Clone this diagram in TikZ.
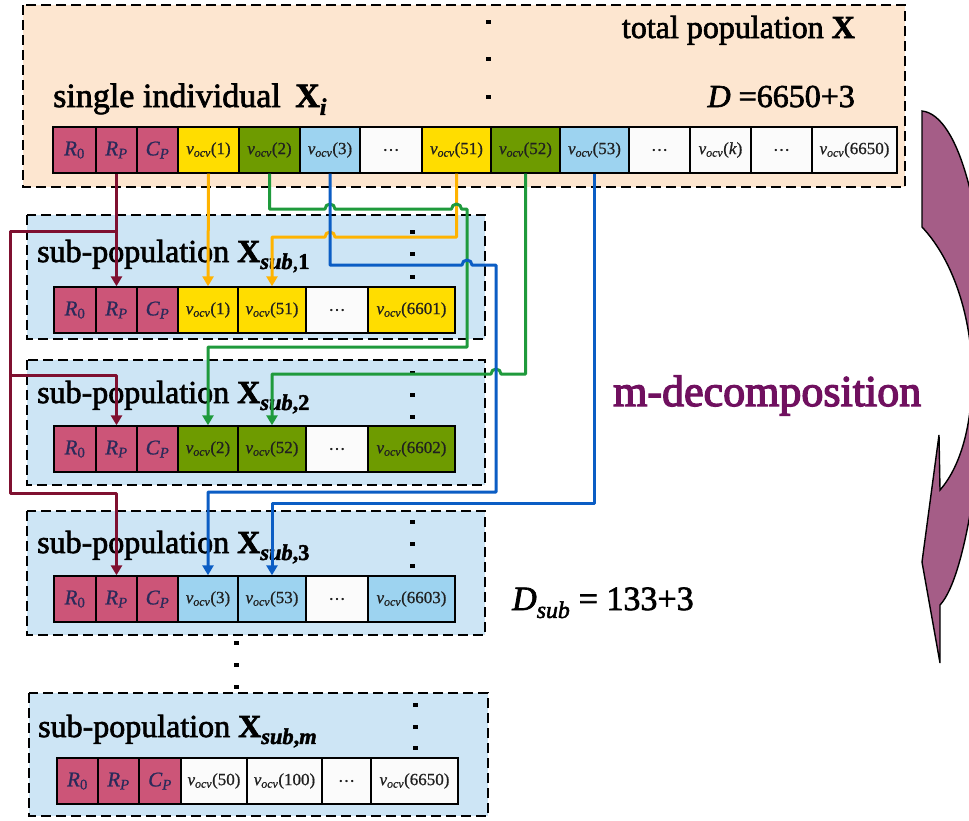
\documentclass[tikz,border=0pt]{standalone}
\usepackage{fontspec}
\setmainfont{Liberation Serif}
\newfontfamily\heavyserif{Liberation Serif}[FakeBold=2]
\newfontfamily\titleserif{Liberation Serif}[FakeBold=3]
\newfontfamily\cellserif{Liberation Serif}[FakeBold=0.8]
\usetikzlibrary{arrows.meta,calc}

\definecolor{peach}{HTML}{FDE6D0}
\definecolor{subfill}{HTML}{CDE5F5}
\definecolor{pinkc}{HTML}{CC5578}
\definecolor{yelc}{HTML}{FFDD00}
\definecolor{grnc}{HTML}{6E9B00}
\definecolor{bluc}{HTML}{9DD3F0}
\definecolor{whtc}{HTML}{FBFBFB}
\definecolor{mlinec}{HTML}{7F1030}
\definecolor{olinec}{HTML}{FFB300}
\definecolor{glinec}{HTML}{1F9A3C}
\definecolor{blinec}{HTML}{0B5DC4}
\definecolor{arrowc}{HTML}{A55D87}
\definecolor{purptxt}{HTML}{70105F}
\definecolor{celltxt}{HTML}{202020}
\definecolor{rtxt}{HTML}{2A2A5A}

% cell contents
\newcommand\vocv[1]{\textit{v}\textsubscript{\textit{ocv}}(#1)}
\newcommand\cRz{\textit{R}\textsubscript{0}}
\newcommand\cRp{\textit{R}\textsubscript{\textit{P}}}
\newcommand\cCp{\textit{C}\textsubscript{\textit{P}}}

% one cell of a chromosome row: name, fill, left x, right x, centre y, text
\newcommand\cell[6]{\node[cellbox,fill=#2,minimum width={(#4-#3)*1pt}] (#1) at ({(#3+#4)/2},#5) {#6};}
% a parameter cell (R_0, R_P, C_P): name, left x, right x, centre y, text
\newcommand\pcell[5]{\node[cellbox,rcell,fill=pinkc,minimum width={(#3-#2)*1pt}] (#1) at ({(#2+#3)/2},#4) {#5};}
% small square dot
\newcommand\sqdot[2]{\fill (#1-2.5,#2-2.3) rectangle (#1+2.5,#2+2.3);}

\tikzset{
  cellbox/.style={draw=black, line width=1.4pt, minimum height=46pt, inner sep=0pt,
    font=\cellserif\fontsize{17}{19}\selectfont, text=celltxt},
  rcell/.style={font=\cellserif\fontsize{21}{23}\selectfont, text=rtxt},
  popbox/.style={draw=black, dash pattern=on 10pt off 5pt, line width=1.9pt},
  lbl/.style={inner sep=0pt, font=\heavyserif\fontsize{32}{36}\selectfont},
  conn/.style={line width=3pt, line join=round, -{Triangle[length=10pt,width=11pt]}},
  mline/.style={conn, draw=mlinec},
  oline/.style={conn, draw=olinec},
  gline/.style={conn, draw=glinec},
  bline/.style={conn, draw=blinec},
}

\begin{document}
\begin{tikzpicture}[x=1pt,y=-1pt]
\useasboundingbox (0,0) rectangle (969,820);
\fill[white] (0,0) rectangle (969,820);

% ---------- population containers ----------
\draw[popbox, fill=peach] (23,5) rectangle (905,187);
\draw[popbox, fill=subfill] (27,215) rectangle (485,339);
\draw[popbox, fill=subfill] (27,360) rectangle (485,485);
\draw[popbox, fill=subfill] (27,511) rectangle (485,635);
\draw[popbox, fill=subfill] (29,693) rectangle (488,816);

% ---------- vertical ellipses ----------
\sqdot{488}{22}\sqdot{488}{59}\sqdot{488}{97}
\sqdot{412}{232}\sqdot{412}{254}\sqdot{412}{277}
\sqdot{412}{373}\sqdot{412}{395}\sqdot{412}{417}
\sqdot{412}{522}\sqdot{412}{544}\sqdot{412}{566}
\sqdot{236}{643}\sqdot{236}{665}\sqdot{236}{687}
\sqdot{415}{705}\sqdot{415}{727}\sqdot{415}{748}

% ---------- labels ----------
\node[lbl, anchor=base east] (total) at (855,38) {total population \textbf{X}};
\node[lbl, anchor=base east] (dim) at (855,107) {\textit{D} =6650+3};
\node[lbl, anchor=base west, font=\heavyserif\fontsize{34}{38}\selectfont] (single) at (53,107) {single individual\hspace{6pt} \textbf{X}\textsubscript{\textbf{\textit{i}}}};
\node[lbl, anchor=base west] (lab1) at (37,262) {sub-population \textbf{X}\textsubscript{\textbf{\textit{sub}},\textbf{1}}};
\node[lbl, anchor=base west] (lab2) at (37,403) {sub-population \textbf{X}\textsubscript{\textbf{\textit{sub},2}}};
\node[lbl, anchor=base west] (lab3) at (37,553) {sub-population \textbf{X}\textsubscript{\textbf{\textit{sub},3}}};
\node[lbl, anchor=base west] (labm) at (38,737) {sub-population \textbf{X}\textsubscript{\textbf{\textit{sub},\textit{m}}}};
\node[lbl, anchor=base west, font=\heavyserif\fontsize{34}{38}\selectfont] (dsub) at (512,610) {\textit{D}\textsubscript{\textit{sub}} = 133+3};
\node[anchor=base west, inner sep=0pt, font=\titleserif\fontsize{44}{48}\selectfont, text=purptxt] (mdec) at (613,406) {m-decomposition};

% ---------- single individual ----------
\pcell{t0}{53}{96}{150}{\cRz}
\pcell{tp}{96}{137}{150}{\cRp}
\pcell{tc}{137}{178}{150}{\cCp}
\cell{t1}{yelc}{178}{239}{150}{\vocv{1}}
\cell{t2}{grnc}{239}{300}{150}{\vocv{2}}
\cell{t3}{bluc}{300}{360}{150}{\vocv{3}}
\cell{te1}{whtc}{360}{422}{150}{\ldots}
\cell{t51}{yelc}{422}{491}{150}{\vocv{51}}
\cell{t52}{grnc}{491}{560}{150}{\vocv{52}}
\cell{t53}{bluc}{560}{629}{150}{\vocv{53}}
\cell{te2}{whtc}{629}{690}{150}{\ldots}
\cell{tk}{whtc}{690}{751}{150}{\vocv{\textit{k}}}
\cell{te3}{whtc}{751}{812}{150}{\ldots}
\cell{tn}{whtc}{812}{897}{150}{\vocv{6650}}

% ---------- sub-population 1 ----------
\pcell{a0}{54}{96}{310}{\cRz}
\pcell{ap}{96}{137}{310}{\cRp}
\pcell{ac}{137}{178}{310}{\cCp}
\cell{a1}{yelc}{178}{238}{310}{\vocv{1}}
\cell{a51}{yelc}{238}{306}{310}{\vocv{51}}
\cell{ae}{whtc}{306}{368}{310}{\ldots}
\cell{an}{yelc}{368}{455}{310}{\vocv{6601}}

% ---------- sub-population 2 ----------
\pcell{b0}{54}{96}{449}{\cRz}
\pcell{bp}{96}{137}{449}{\cRp}
\pcell{bc}{137}{178}{449}{\cCp}
\cell{b2}{grnc}{178}{238}{449}{\vocv{2}}
\cell{b52}{grnc}{238}{306}{449}{\vocv{52}}
\cell{be}{whtc}{306}{368}{449}{\ldots}
\cell{bn}{grnc}{368}{455}{449}{\vocv{6602}}

% ---------- sub-population 3 ----------
\pcell{c0}{54}{96}{599}{\cRz}
\pcell{cp}{96}{137}{599}{\cRp}
\pcell{cc}{137}{178}{599}{\cCp}
\cell{c3}{bluc}{178}{238}{599}{\vocv{3}}
\cell{c53}{bluc}{238}{306}{599}{\vocv{53}}
\cell{ce}{whtc}{306}{368}{599}{\ldots}
\cell{cn}{bluc}{368}{455}{599}{\vocv{6603}}

% ---------- sub-population m ----------
\pcell{m0}{57}{98}{781}{\cRz}
\pcell{mp}{98}{139}{781}{\cRp}
\pcell{mc}{139}{181}{781}{\cCp}
\cell{m50}{whtc}{181}{247}{781}{\vocv{50}}
\cell{m100}{whtc}{247}{322}{781}{\vocv{100}}
\cell{me}{whtc}{322}{371}{781}{\ldots}
\cell{mn}{whtc}{371}{458}{781}{\vocv{6650}}

% ---------- routing of the genes ----------
% shared R_P / R_0 / C_P block
\draw[mline] (tp.south) -- (ap.north);
\draw[mline] (tp.south |- 0,231) -- (10,231) -- (10,493) -| (cp.north);
\draw[mline] (10,375) -| (bp.north);

% yellow group
\draw[oline] (t1.south) -- (a1.north);
\draw[oline] (t51.south) |- ($(t3.south |- 0,237)+(5pt,0)$)
  arc[start angle=0,end angle=180,radius=5pt] -| (a51.north);

% green group
\draw[gline] (t2.south) |- ($(t3.south |- 0,209)+(-5pt,0)$)
  arc[start angle=180,end angle=0,radius=5pt]
  -- ($(t51.south |- 0,209)+(-5pt,0)$)
  arc[start angle=180,end angle=0,radius=5pt]
  -- (467,209) -- (467,347) -| (b2.north);
\draw[gline] (t52.south) |- ($(496,374)+(5pt,0)$)
  arc[start angle=0,end angle=180,radius=5pt] -| (b52.north);

% blue group
\draw[bline] (t3.south) |- ($(467,265)+(-5pt,0)$)
  arc[start angle=180,end angle=0,radius=5pt]
  -- (496,265) -- (496,492) -| (c3.north);
\draw[bline] (t53.south) -- (t53.south |- 0,503) -| (c53.north);

% ---------- decomposition arrow ----------
\begin{scope}
\clip (0,0) rectangle (969,820);
\draw[fill=arrowc, line width=1.4pt, line join=miter]
  (922,111) .. controls (960,115) and (985,220) .. (985,330)
  .. controls (986,430) and (968,575) .. (940,605)
  -- (940,663) -- (922,562) -- (939,435) -- (940,490)
  .. controls (962,465) and (973,420) .. (972,370)
  .. controls (971,320) and (955,262) .. (922,227) -- cycle;
\end{scope}
\end{tikzpicture}
\end{document}
